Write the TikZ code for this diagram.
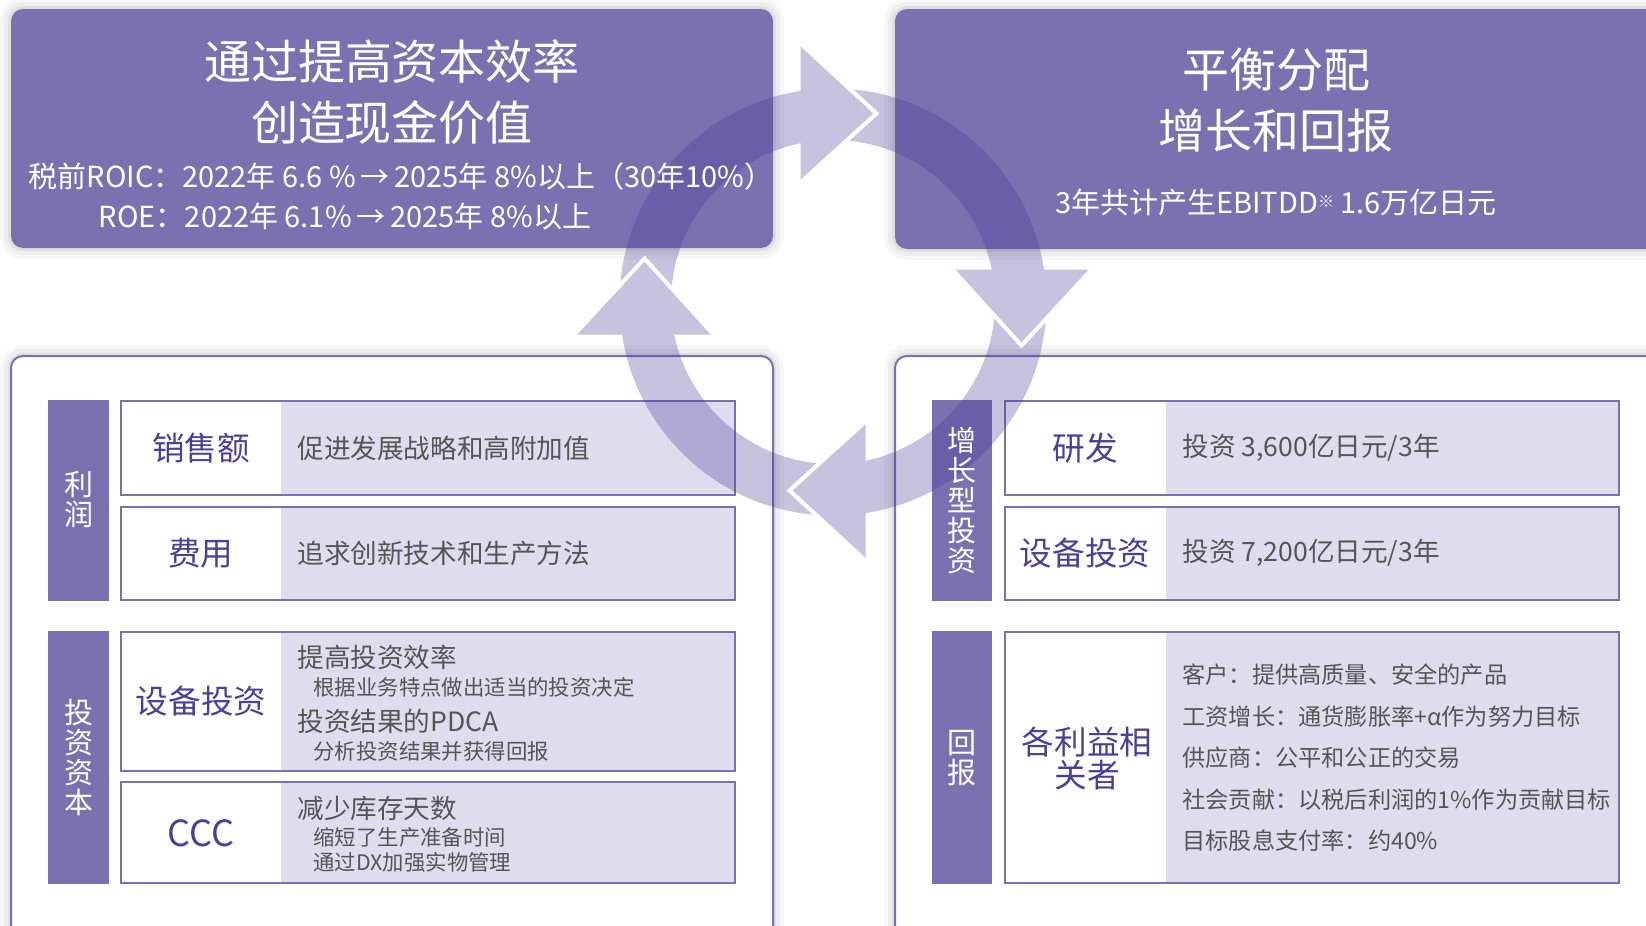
\documentclass[tikz,border=0pt]{standalone}
\usepackage{fontspec}
\setmainfont{Noto Sans CJK SC}
\usetikzlibrary{calc}

\definecolor{boxpurple}{RGB}{122,113,177}
\definecolor{deeppurple}{RGB}{75,63,153}
\definecolor{rowfill}{RGB}{223,220,238}
\definecolor{ringpurple}{RGB}{67,55,149}
\definecolor{graytext}{RGB}{85,85,85}

\tikzset{
  halo/.style={preaction={draw=black, opacity=0.03, line width=11pt},
               preaction={draw=black, opacity=0.04, line width=7pt},
               preaction={draw=black, opacity=0.06, line width=3pt}},
  headbox/.style={fill=boxpurple, rounded corners=6pt, halo},
  panelbox/.style={fill=white, rounded corners=6pt, halo, draw=boxpurple, line width=1pt},
  rowline/.style={draw=boxpurple, line width=1pt},
  headtitle/.style={text=white, align=center, inner sep=0pt, font=\fontsize{23.5}{30.5}\selectfont},
  headnote/.style={text=white, inner sep=0pt, font=\fontsize{14.5}{17}\selectfont},
  barlabel/.style={text=white, align=center, inner sep=0pt, font=\fontsize{14.5}{15}\selectfont},
  itemlabel/.style={text=deeppurple, align=center, inner sep=0pt, font=\fontsize{16.3}{16.5}\selectfont},
  itemtext/.style={text=graytext, anchor=west, inner sep=0pt, font=\fontsize{13.3}{15}\selectfont},
  itemsub/.style={text=graytext, anchor=west, inner sep=0pt, font=\fontsize{10.7}{12}\selectfont},
  stakeline/.style={text=graytext, anchor=west, inner sep=0pt, font=\fontsize{11.6}{13}\selectfont}
}
\def\itemrow(#1:#2:#3)(#4:#5){\fill[rowfill] (#2,#4) rectangle (#3,#5); \draw[rowline] (#1,#4) rectangle (#3,#5);}

\begin{document}
\begin{tikzpicture}[x=0.5pt, y=-0.5pt]
	%%%%% START %%%%%
	\useasboundingbox (0,0) rectangle (1646,926);

	% header boxes
	\path[headbox] (11,9) rectangle (773,248);
	\path[headbox] (895,9) rectangle (1690,249);

	% lower panels
	\path[panelbox] (11,356) rectangle (773,980);
	\path[panelbox] (895,356) rectangle (1690,980);

	% side bars
	\fill[boxpurple] (48,400) rectangle (109,601);
	\fill[boxpurple] (48,631) rectangle (109,884);
	\fill[boxpurple] (932,400) rectangle (992,601);
	\fill[boxpurple] (932,631) rectangle (992,884);

	% rows
	\itemrow(121:281:735)(401:495)
	\itemrow(121:281:735)(507:600)
	\itemrow(121:281:735)(632:771)
	\itemrow(121:281:735)(782:883)
	\itemrow(1005:1166:1619)(401:495)
	\itemrow(1005:1166:1619)(507:600)
	\itemrow(1005:1166:1619)(632:883)

	% cycle arrows
	\begin{scope}[transparency group, opacity=0.3]
		\fill[ringpurple, even odd rule] (833,302) circle [radius=213.5] (833,302) circle [radius=162];
		\foreach \ang in {0,-90,-180,-270}{
			\begin{scope}[shift={(833,302)}, rotate=\ang]
				\fill[ringpurple] (-32.5,-258.5) -- (43.5,-188.5) -- (-32.5,-119.5) -- cycle;
				\draw[white, line width=2pt] (-32.5,-258.5) -- (43.5,-188.5) -- (-32.5,-119.5);
			\end{scope}
		}
	\end{scope}

	% header texts
	\node[headtitle] (capital) at (392,92) {通过提高资本效率\\创造现金价值};
	\node[headnote] (roic) at (401,176) {税前ROIC：2022年 6.6 \%\,→\,2025年 8\%以上（30年10\%）};
	\node[headnote] (roe) at (345,217) {ROE：2022年 6.1\%\,→\,2025年 8\%以上};
	\node[headtitle] (balance) at (1276,100) {平衡分配\\增长和回报};
	\node[headnote] (ebitdd) at (1276,203) {3年共计产生EBITDD{\fontsize{8}{8}\selectfont\raisebox{0.7ex}{※}} 1.6万亿日元};

	% side bar texts
	\node[barlabel] (profit) at (79,500) {利\\润};
	\node[barlabel] (invcap) at (79,757) {投\\资\\资\\本};
	\node[barlabel] (growth) at (962,500) {增\\长\\型\\投\\资};
	\node[barlabel] (payback) at (962,758) {回\\报};

	% left rows
	\node[itemlabel] (sales) at (201,448) {销售额};
	\node[itemtext] (salestxt) at (297,448) {促进发展战略和高附加值};
	\node[itemlabel] (cost) at (201,553) {费用};
	\node[itemtext] (costtxt) at (297,553) {追求创新技术和生产方法};
	\node[itemlabel] (capex) at (201,701) {设备投资};
	\node[itemtext] (capex1) at (297,657) {提高投资效率};
	\node[itemsub] (capex1s) at (313,687) {根据业务特点做出适当的投资决定};
	\node[itemtext] (capex2) at (297,721) {投资结果的PDCA};
	\node[itemsub] (capex2s) at (313,751) {分析投资结果并获得回报};
	\node[itemlabel, font=\fontsize{18}{18}\selectfont] (ccc) at (201,833) {CCC};
	\node[itemtext] (ccc1) at (297,808) {减少库存天数};
	\node[itemsub] (ccc1s) at (313,837) {缩短了生产准备时间};
	\node[itemsub] (ccc2s) at (313,862) {通过DX加强实物管理};

	% right rows
	\node[itemlabel] (rnd) at (1085,448) {研发};
	\node[itemtext] (rndtxt) at (1182,448) {投资 3,600亿日元/3年};
	\node[itemlabel] (equip) at (1085,553) {设备投资};
	\node[itemtext] (equiptxt) at (1182,553) {投资 7,200亿日元/3年};
	\node[itemlabel] (holders) at (1087,758) {各利益相\\关者};
	\node[stakeline] (cust) at (1182,675) {客户：提供高质量、安全的产品};
	\node[stakeline] (wage) at (1182,717) {工资增长：通货膨胀率+α作为努力目标};
	\node[stakeline] (supp) at (1182,758) {供应商：公平和公正的交易};
	\node[stakeline] (soc) at (1182,800) {社会贡献：以税后利润的1\%作为贡献目标};
	\node[stakeline] (div) at (1182,841) {目标股息支付率：约40\%};

	%%%%% END %%%%%
\end{tikzpicture}
\end{document}
